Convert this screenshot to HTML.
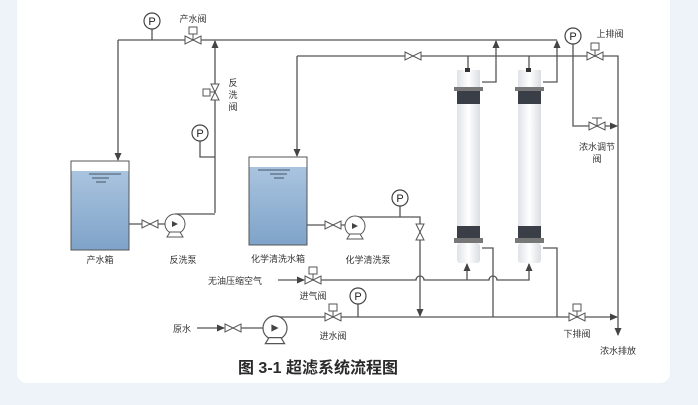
<!DOCTYPE html>
<html><head><meta charset="utf-8"><style>
html,body{margin:0;padding:0;background:#eef3f9;}
body{width:698px;height:405px;position:relative;overflow:hidden;font-family:"Liberation Sans","Noto Sans CJK SC",sans-serif;}
.card{position:absolute;left:17px;top:0;width:653px;height:383px;background:#fff;border-radius:0 0 10px 10px;}
svg{position:absolute;left:0;top:0;}
text{font-family:"Liberation Sans","Noto Sans CJK SC",sans-serif;font-size:9px;fill:#333;}
</style></head><body>
<div class="card"></div>
<svg width="698" height="405" viewBox="0 0 698 405">
<defs>
<marker id="a" markerWidth="8" markerHeight="8" refX="7" refY="4" orient="auto" markerUnits="userSpaceOnUse"><path d="M0,0.5 L8,4 L0,7.5z" fill="#444"/></marker>
<linearGradient id="w" x1="0" y1="0" x2="0" y2="1"><stop offset="0" stop-color="#a9c4df"/><stop offset="1" stop-color="#7fa3c9"/></linearGradient>
<linearGradient id="m" x1="0" y1="0" x2="1" y2="0"><stop offset="0" stop-color="#dfe2e7"/><stop offset="0.5" stop-color="#fff"/><stop offset="1" stop-color="#dadde2"/></linearGradient>
<g id="vh"><path d="M-8,-4 L8,4 L8,-4 L-8,4z" fill="#fff" stroke="#555" stroke-width="1"/></g>
<g id="vhb"><use href="#vh"/><line x1="0" y1="0" x2="0" y2="-6" stroke="#555"/><rect x="-4" y="-13" width="8" height="7" fill="#fff" stroke="#555"/></g>
<g id="pg"><circle r="8" fill="#fff" stroke="#444" stroke-width="1.2"/><text x="0" y="4" text-anchor="middle" style="font-size:11px;fill:#222">P</text></g>
<g id="pump"><circle r="10" fill="#fff" stroke="#555"/><path d="M-3,-3 L3,0 L-3,3z" fill="#444"/><path d="M-8,13 L-5,8 L5,8 L8,13z" fill="#fff" stroke="#555"/></g>
<g id="mod">
<rect x="-11" y="0" width="23" height="17" fill="url(#m)"/>
<rect x="-14" y="17" width="29" height="4" fill="#777"/>
<rect x="-11" y="21" width="23" height="13" fill="#3a3f47"/>
<rect x="-11" y="34" width="23" height="122" fill="url(#m)"/>
<rect x="-11" y="156" width="23" height="12" fill="#3a3f47"/>
<rect x="-14" y="168" width="29" height="5" fill="#777"/>
<rect x="-11" y="173" width="23" height="20" rx="3" fill="url(#m)"/>
</g>
</defs>
<g stroke="#555" stroke-width="1.3" fill="none">
<path d="M118,40 H557"/>
<path d="M118,40 V160" marker-end="url(#a)"/>
<path d="M152,29 V40"/>
<path d="M215,213 V41" marker-end="url(#a)"/>
<path d="M200,141 V157 H215"/>
<path d="M297,56 H618 V335" marker-end="url(#a)"/>
<path d="M297,56 V156" marker-end="url(#a)"/>
<path d="M468,56 V70"/><path d="M529,56 V70"/>
<path d="M482,82 H496 V41" marker-end="url(#a)"/>
<path d="M543,82 H557 V41" marker-end="url(#a)"/>
<path d="M573,44 V126 H617" marker-end="url(#a)"/>
<path d="M129,224 H165"/>
<path d="M175,214 H215"/>
<path d="M307,225 H345"/>
<path d="M355,217 H420 V316" marker-end="url(#a)"/>
<path d="M400,206 V217"/>
<path d="M278,280 H304" marker-end="url(#a)"/>
<path d="M320,280 H416 A4,4 0 0 1 424,280 H489 A4,4 0 0 1 497,280 H529 V264" marker-end="url(#a)"/>
<path d="M467,280 V264" marker-end="url(#a)"/>
<path d="M197,328 H224" marker-end="url(#a)"/>
<path d="M241,328 H263"/>
<path d="M275,317 H557 V248 H543"/>
<path d="M493,317 V248 H482"/>
<path d="M358,304 V317"/>
<path d="M557,317 H617" marker-end="url(#a)"/>
</g>
<rect x="71" y="161" width="58" height="89" fill="#fff" stroke="#555"/>
<rect x="71.5" y="171" width="57" height="78.5" fill="url(#w)"/>
<path d="M89,174 H121 M92,178 H109 M96,182 H106" stroke="#456" stroke-width="1"/>
<rect x="249" y="157" width="58" height="88" fill="#fff" stroke="#555"/>
<rect x="249.5" y="167" width="57" height="77.5" fill="url(#w)"/>
<path d="M258,170 H290 M270,174 H287 M274,178 H284" stroke="#456" stroke-width="1"/>
<use href="#mod" x="468" y="70"/>
<use href="#mod" x="529" y="70"/>
<rect x="465" y="68" width="5" height="4" fill="#333"/><rect x="526" y="68" width="5" height="4" fill="#333"/>
<use href="#vhb" x="193" y="40"/>
<g transform="translate(215,92) rotate(90)"><use href="#vh"/></g>
<rect x="203" y="89" width="7" height="7" fill="#fff" stroke="#555"/><line x1="210" y1="92" x2="215" y2="92" stroke="#555"/>
<use href="#vh" x="413" y="56"/>
<use href="#vhb" x="595" y="56"/>
<use href="#vh" x="597" y="126"/><line x1="597" y1="126" x2="597" y2="118" stroke="#555"/><line x1="592" y1="118" x2="602" y2="118" stroke="#555"/>
<use href="#vh" x="150" y="224"/>
<use href="#vh" x="333" y="225"/>
<g transform="translate(420,232) rotate(90)"><use href="#vh"/></g>
<use href="#vhb" x="313" y="280"/>
<use href="#vh" x="233" y="328"/>
<use href="#vhb" x="333" y="317"/>
<use href="#vhb" x="577" y="317"/>
<use href="#pump" x="175" y="224"/>
<use href="#pump" x="355" y="226"/>
<g transform="translate(275,328) scale(1.2)"><use href="#pump"/></g>
<use href="#pg" x="152" y="21"/>
<use href="#pg" x="200" y="133"/>
<use href="#pg" x="573" y="36"/>
<use href="#pg" x="400" y="198"/>
<use href="#pg" x="358" y="296"/>
<text x="193" y="22" text-anchor="middle">产水阀</text>
<text x="233" y="86" text-anchor="middle">反</text><text x="233" y="98" text-anchor="middle">洗</text><text x="233" y="110" text-anchor="middle">阀</text>
<text x="610" y="37" text-anchor="middle">上排阀</text>
<text x="597" y="150" text-anchor="middle">浓水调节</text>
<text x="597" y="162" text-anchor="middle">阀</text>
<text x="100" y="263" text-anchor="middle">产水箱</text>
<text x="183" y="263" text-anchor="middle">反洗泵</text>
<text x="278" y="262" text-anchor="middle">化学清洗水箱</text>
<text x="368" y="263" text-anchor="middle">化学清洗泵</text>
<text x="235" y="284" text-anchor="middle">无油压缩空气</text>
<text x="313" y="299" text-anchor="middle">进气阀</text>
<text x="182" y="332" text-anchor="middle">原水</text>
<text x="333" y="339" text-anchor="middle">进水阀</text>
<text x="577" y="337" text-anchor="middle">下排阀</text>
<text x="618" y="354" text-anchor="middle">浓水排放</text>
<text x="318" y="373" text-anchor="middle" style="font-size:16px;font-weight:bold;fill:#2a2a2a">图 3-1 超滤系统流程图</text>
</svg>
</body></html>
